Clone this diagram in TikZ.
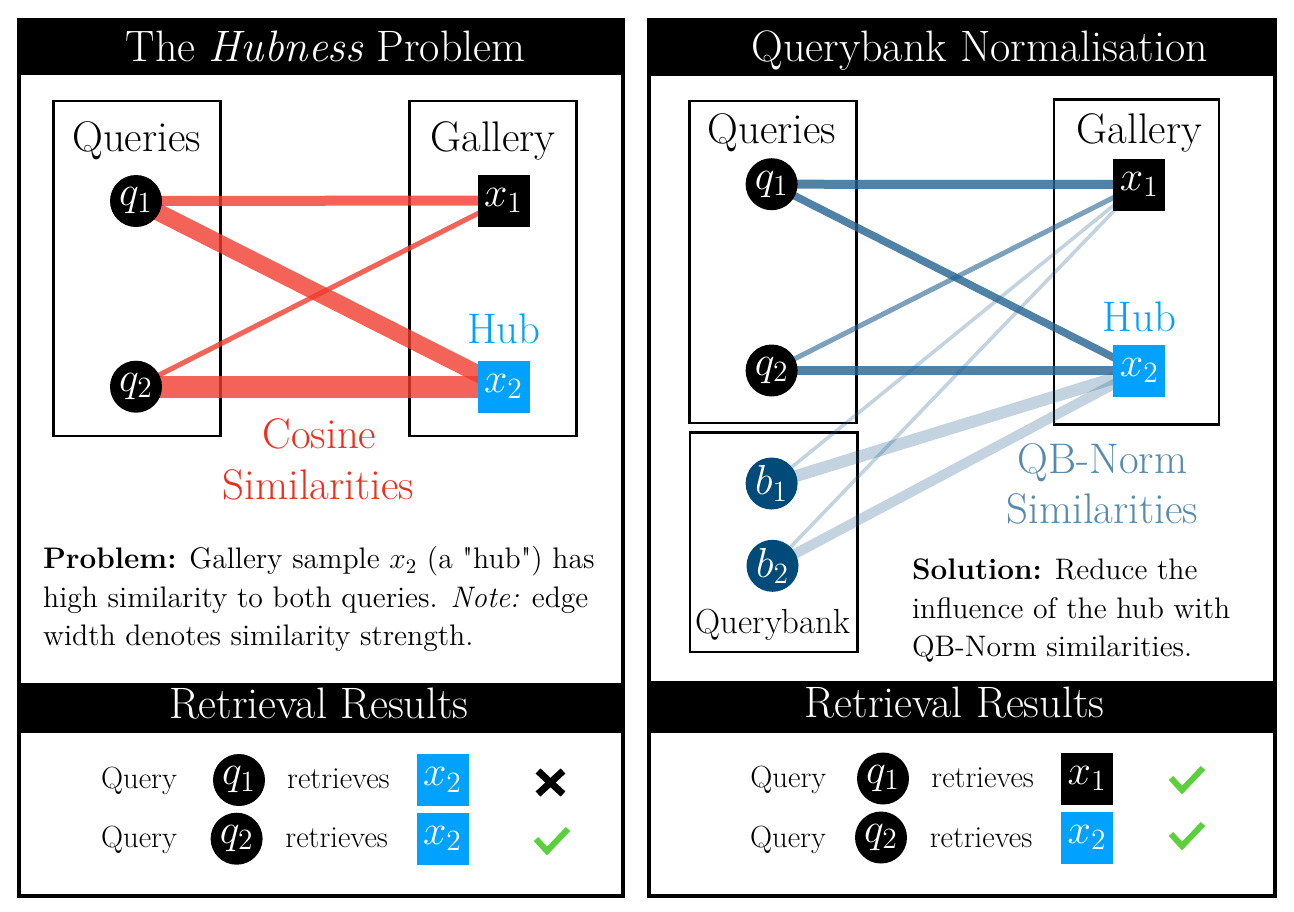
\documentclass[tikz,border=0pt]{standalone}
\usepackage{fix-cm}
\usepackage{fontspec}
\pgfdeclarelayer{boxlayer}
\pgfdeclarelayer{edgelayer}
\pgfsetlayers{boxlayer,edgelayer,main}
\definecolor{edgered}{RGB}{240,60,45}
\definecolor{cosred}{RGB}{238,45,30}
\definecolor{hubblue}{RGB}{0,161,255}
\definecolor{qbblue}{RGB}{35,99,144}
\definecolor{bankblue}{RGB}{0,75,122}
\definecolor{qbtext}{RGB}{88,138,175}
\definecolor{chkgreen}{RGB}{90,208,60}
\newcommand\ttlf{\fontsize{22}{26}\selectfont}
\newcommand\lblf{\fontsize{21.4}{25}\selectfont}
\newcommand\bodyf{\fontsize{14.85}{19.2}\selectfont}
\newcommand\resf{\fontsize{15.3}{18}\selectfont}
\newcommand\mathf{\fontsize{21}{24}\selectfont}
\newcommand\bankf{\fontsize{17.4}{20}\selectfont}
\begin{document}
\begin{tikzpicture}[x=0.5pt,y=-0.5pt,
  txt/.style={inner sep=0pt, anchor=base},
  qn/.style={circle, fill=black, text=white, minimum size=26pt, inner sep=0pt, font=\mathf},
  bn/.style={qn, fill=bankblue},
  gn/.style={rectangle, fill=black, text=white, minimum size=26pt, inner sep=0pt, font=\mathf},
  hn/.style={gn, fill=hubblue},
  grp/.style={draw, line width=1.2pt, inner sep=0pt},
  redge/.style={draw=edgered, draw opacity=0.8},
  bedge/.style={draw=qbblue, draw opacity=0.8},
  ledge/.style={draw=qbblue, draw opacity=0.27},
  crossst/.style={draw=black, line width=3.5pt},
  chk/.style={draw=chkgreen, line width=3pt}]
\useasboundingbox (0,0) rectangle (1294,911);
\begin{pgfonlayer}{boxlayer}
\fill[white] (0,0) rectangle (1294,911);
% left panel
\fill[black] (17,18) rectangle (625,898);
\fill[white] (21,75) rectangle (621,683);
\fill[white] (21,733) rectangle (621,894);
% right panel
\fill[black] (647,18) rectangle (1277,898);
\fill[white] (651,76) rectangle (1273,681);
\fill[white] (651,733) rectangle (1273,894);
% group boxes
\node[grp, minimum width=83.5pt, minimum height=167.6pt] (lqbox) at (136.9,268.4) {};
\node[grp, minimum width=83.5pt, minimum height=167.6pt] (lgbox) at (492.8,268.4) {};
\node[grp, minimum width=83.5pt, minimum height=161pt] (rqbox) at (772.9,261.7) {};
\node[grp, minimum width=83.6pt, minimum height=109.9pt] (rbbox) at (773.8,542.2) {};
\node[grp, minimum width=82.4pt, minimum height=162.4pt] (rgbox) at (1136.5,262) {};
\end{pgfonlayer}

% titles
\node[txt, text=white, font=\ttlf] (ltitle) at (325.7,61) {The \textit{Hubness} Problem};
\node[txt, text=white, font=\ttlf] (rtitle) at (979.6,61) {Querybank Normalisation};
\node[txt, text=white, font=\ttlf] (lres) at (318.9,718.3) {Retrieval Results};
\node[txt, text=white, font=\ttlf] (rres) at (954.7,717.7) {Retrieval Results};

% left graph
\node[txt, font=\lblf] (lqlbl) at (136.6,151.7) {Queries};
\node[txt, font=\lblf] (lglbl) at (493,151.7) {Gallery};
\node[txt, font=\lblf, text=hubblue] (lhub) at (503.7,343.3) {Hub};
\node[txt, font=\lblf, text=cosred] (cos1) at (319.5,448.3) {Cosine};
\node[txt, font=\lblf, text=cosred] (cos2) at (318.5,499.3) {Similarities};
\node[qn] (lq1) at (136,201) {$q_1$};
\node[qn] (lq2) at (136,386.7) {$q_2$};
\node[gn] (lx1) at (503.5,200.5) {$x_1$};
\node[hn] (lx2) at (503.5,386.7) {$x_2$};
\begin{pgfonlayer}{edgelayer}
\draw[redge, line width=5pt] (lq1.center) -- (lx1.center);
\draw[redge, line width=8.5pt] (lq1.center) -- (lx2.center);
\draw[redge, line width=2.5pt] (lq2.center) -- (lx1.center);
\draw[redge, line width=11pt] (lq2.center) -- (lx2.center);
\end{pgfonlayer}
\node[inner sep=0pt, anchor=north west, align=left, font=\bodyf] (prob) at (42.7,546)
  {\textbf{Problem:} Gallery sample $x_2$ (a \textquotedbl hub\textquotedbl) has\\
   high similarity to both queries. \textit{Note:} edge\\
   width denotes similarity strength.};

% right graph
\node[txt, font=\lblf] (rqlbl) at (772,143.3) {Queries};
\node[txt, font=\lblf] (rglbl) at (1139.3,143.3) {Gallery};
\node[txt, font=\lblf, text=hubblue] (rhub) at (1139.4,331) {Hub};
\node[txt, font=\bankf] (rblbl) at (773,633.3) {Querybank};
\node[txt, font=\lblf, text=qbtext] (qbn1) at (1102.5,473.3) {QB-Norm};
\node[txt, font=\lblf, text=qbtext] (qbn2) at (1102.5,523.3) {Similarities};
\node[qn] (rq1) at (771.6,184.2) {$q_1$};
\node[qn] (rq2) at (771.6,370.5) {$q_2$};
\node[bn] (rb1) at (771.6,483.5) {$b_1$};
\node[bn] (rb2) at (772.5,565.8) {$b_2$};
\node[gn] (rx1) at (1139.3,184.5) {$x_1$};
\node[hn] (rx2) at (1139.3,370.5) {$x_2$};
\begin{pgfonlayer}{edgelayer}
\draw[bedge, line width=4.5pt] (rq1.center) -- (rx1.center);
\draw[bedge, line width=3.8pt] (rq1.center) -- (rx2.center);
\draw[qbblue, draw opacity=0.6, line width=2.5pt] (rq2.center) -- (rx1.center);
\draw[bedge, line width=4.5pt] (rq2.center) -- (rx2.center);
\draw[ledge, line width=1.8pt] (rb1.center) -- (rx1.center);
\draw[ledge, line width=6pt] (rb1.center) -- (rx2.center);
\draw[ledge, line width=1.8pt] (rb2.center) -- (rx1.center);
\draw[ledge, line width=5pt] (rb2.center) -- (rx2.center);
\end{pgfonlayer}
\node[inner sep=0pt, anchor=north west, align=left, font=\bodyf] (sol) at (911.6,558.8)
  {\textbf{Solution:} Reduce the\\
   influence of the hub with\\
   QB-Norm similarities.};

% left results
\node[txt, font=\resf] (lrq1) at (139,788) {Query};
\node[qn] (lr1q) at (239,780) {$q_1$};
\node[txt, font=\resf] (lrr1) at (338.4,788) {retrieves};
\node[hn] (lr1x) at (442.5,780) {$x_2$};
\coordinate (lcross) at (550.5,782.5);
\draw[crossst] ([shift={(-12.5,-11.5)}]lcross) -- ([shift={(12.5,11.5)}]lcross);
\draw[crossst] ([shift={(12.5,-11.5)}]lcross) -- ([shift={(-12.5,11.5)}]lcross);
\node[txt, font=\resf] (lrq2) at (139,847) {Query};
\node[qn] (lr2q) at (236.6,838.7) {$q_2$};
\node[txt, font=\resf] (lrr2) at (336.7,847) {retrieves};
\node[hn] (lr2x) at (442.5,838.5) {$x_2$};
\coordinate (lchk) at (547,851);
\draw[chk] ([shift={(-11,-12)}]lchk) -- (lchk) -- ++(21,-22);

% right results
\node[txt, font=\resf] (rrq1) at (788.3,787) {Query};
\node[qn] (rr1q) at (883,778.5) {$q_1$};
\node[txt, font=\resf] (rrr1) at (982.7,787) {retrieves};
\node[gn] (rr1x) at (1087,778.5) {$x_1$};
\coordinate (rchk1) at (1182,790);
\draw[chk] ([shift={(-11,-12)}]rchk1) -- (rchk1) -- ++(21,-22);
\node[txt, font=\resf] (rrq2) at (788,847) {Query};
\node[qn] (rr2q) at (881,837.5) {$q_2$};
\node[txt, font=\resf] (rrr2) at (981,847) {retrieves};
\node[hn] (rr2x) at (1087,837.5) {$x_2$};
\coordinate (rchk2) at (1182,846);
\draw[chk] ([shift={(-11,-12)}]rchk2) -- (rchk2) -- ++(21,-22);
\end{tikzpicture}
\end{document}
